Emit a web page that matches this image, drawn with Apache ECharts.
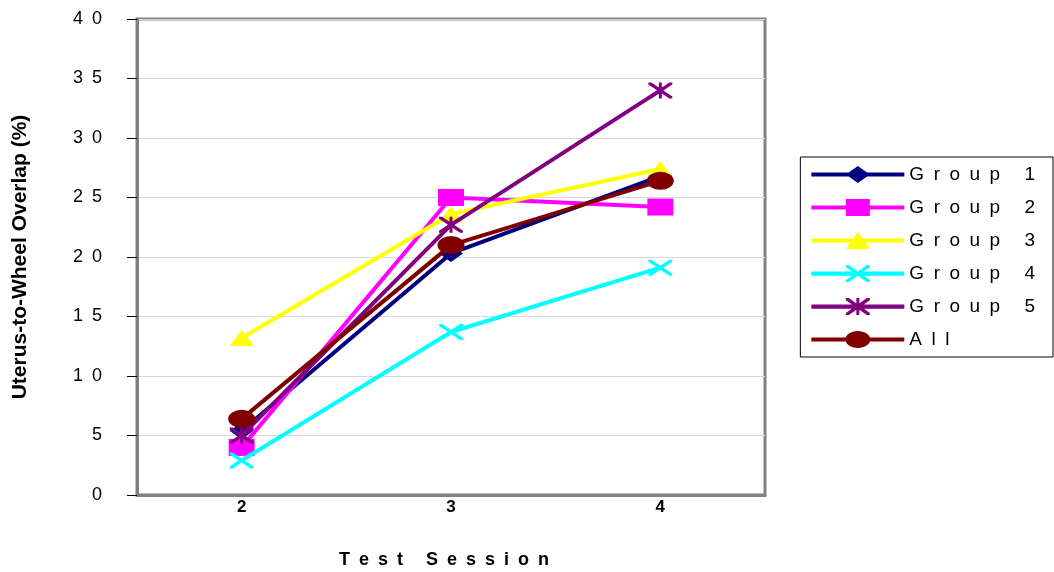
<!DOCTYPE html>
<html>
<head>
<meta charset="utf-8">
<script src="https://cdn.jsdelivr.net/npm/echarts@6/dist/echarts.min.js"></script>
<style>html,body{margin:0;padding:0;background:#fff}#c{width:1054px;height:572px}</style>
</head>
<body>
<div id="c"></div>
<script>
const categories = ['2', '3', '4'];
const group1 = [5.4, 20.3, 26.8];
const group2 = [4.0, 25.0, 24.2];
const group3 = [13.2, 23.6, 27.4];
const group4 = [2.9, 13.7, 19.1];
const group5 = [5.0, 22.7, 34.0];
const allGroups = [6.4, 21.0, 26.4];
const seriesNames = ['Group 1', 'Group 2', 'Group 3', 'Group 4', 'Group 5', 'All'];
const yTicks = [0, 5, 10, 15, 20, 25, 30, 35, 40];
const xTitle = 'Test Session';
const yTitle = 'Uterus-to-Wheel Overlap (%)';

const SP = '\u2002';
const spaced = s => s.split('').join(SP);

// marker shapes (unit boxes 24x16)
const xShape = (ox, oy) => {
  const p = [[0,0],[3,0],[12,6],[21,0],[24,0],[24,2],[15,8],[24,14],[24,16],[21,16],[12,10],[3,16],[0,16],[0,14],[9,8],[0,2]];
  return 'M' + p.map(q => (q[0] + ox) + ',' + (q[1] + oy)).join(' L') + ' Z';
};
const barShape = (ox, oy) => `M${10.5+ox},${oy} L${13.5+ox},${oy} L${13.5+ox},${16+oy} L${10.5+ox},${16+oy} Z`;
const xPath = 'path://' + xShape(0, 0);
const starPath = 'path://' + xShape(0, 0) + ' ' + barShape(0, 0);

// legend icons: line + marker, 93 x 17
const LW = 93, LH = 17, cx = LW / 2, cy = LH / 2;
const lineShape = `M0,${cy-2} L${LW},${cy-2} L${LW},${cy+2} L0,${cy+2} Z`;
const ellipse = (rx, ry) => {
  const k = 0.5523;
  return `M${cx-rx},${cy} C${cx-rx},${cy-ry*k} ${cx-rx*k},${cy-ry} ${cx},${cy-ry} ` +
    `C${cx+rx*k},${cy-ry} ${cx+rx},${cy-ry*k} ${cx+rx},${cy} ` +
    `C${cx+rx},${cy+ry*k} ${cx+rx*k},${cy+ry} ${cx},${cy+ry} ` +
    `C${cx-rx*k},${cy+ry} ${cx-rx},${cy+ry*k} ${cx-rx},${cy} Z`;
};
const legendIcons = [
  `path://${lineShape} M${cx-12},${cy} L${cx},0 L${cx+12},${cy} L${cx},${LH} Z`,
  `path://${lineShape} M${cx-12},0 L${cx+12},0 L${cx+12},${LH} L${cx-12},${LH} Z`,
  `path://${lineShape} M${cx},0 L${cx+12},${LH} L${cx-12},${LH} Z`,
  `path://${lineShape} ${xShape(cx-12, 0.5)}`,
  `path://${lineShape} ${xShape(cx-12, 0.5)} ${barShape(cx-12, 0.5)}`,
  `path://${lineShape} ${ellipse(12.5, 8.5)}`
];

const styles = [
  {color: '#000080', symbol: 'diamond', size: [24, 17]},
  {color: '#FF00FF', symbol: 'rect', size: [26, 17]},
  {color: '#FFFF00', symbol: 'triangle', size: [24, 16]},
  {color: '#00FFFF', symbol: xPath, size: [24, 16]},
  {color: '#800080', symbol: starPath, size: [24, 16]},
  {color: '#800000', symbol: 'circle', size: [27, 18]}
];
const data = [group1, group2, group3, group4, group5, allGroups];

const chart = echarts.init(document.getElementById('c'), null, {renderer: 'canvas'});
const font = "'Liberation Sans', Arial, sans-serif";
chart.setOption({
  animation: false,
  backgroundColor: '#fff',
  textStyle: {fontFamily: font},
  grid: {left: 137, top: 19, right: 289, bottom: 77, show: true, borderColor: '#808080', borderWidth: 3,
    outerBoundsMode: 'none', containLabel: false},
  legend: {
    orient: 'vertical', right: 1, top: 157,
    padding: [8, 18, 8, 11],
    borderColor: '#000', borderWidth: 1,
    itemWidth: LW, itemHeight: LH, itemGap: 14,
    symbolKeepAspect: false,
    textStyle: {fontSize: 19, color: '#000', fontFamily: font},
    formatter: n => spaced(n),
    data: seriesNames.map((n, i) => ({name: n, icon: legendIcons[i]}))
  },
  xAxis: {
    type: 'category', data: categories, boundaryGap: true,
    axisLine: {show: true, lineStyle: {color: '#808080', width: 3}},
    axisTick: {show: false},
    axisLabel: {fontSize: 17, fontWeight: 'bold', color: '#000', margin: 4, fontFamily: font},
    name: spaced(xTitle), nameLocation: 'middle', nameGap: 56,
    nameTextStyle: {fontSize: 18, fontWeight: 'bold', color: '#000', fontFamily: font, padding: [0, 14, 0, 0]}
  },
  yAxis: {
    type: 'value', min: 0, max: 40, interval: 5,
    axisLine: {show: true, lineStyle: {color: '#808080', width: 3}},
    axisTick: {show: true, length: 10, lineStyle: {color: '#000', width: 1}},
    splitLine: {show: true, lineStyle: {color: '#d9d9d9', width: 1}},
    axisLabel: {fontSize: 18, color: '#000', margin: 35, fontFamily: font,
      formatter: v => yTicks.includes(v) ? spaced(String(v)) : ''},
    name: yTitle, nameLocation: 'middle', nameGap: 106, nameRotate: 90,
    nameTextStyle: {fontSize: 21, fontWeight: 'bold', color: '#000', fontFamily: font}
  },
  series: seriesNames.map((n, i) => ({
    name: n, type: 'line', data: data[i],
    symbol: styles[i].symbol, symbolSize: styles[i].size, showAllSymbol: true,
    lineStyle: {color: styles[i].color, width: 4},
    itemStyle: {color: styles[i].color, borderWidth: 0},
    z: 2 + i
  }))
});
</script>
</body>
</html>
